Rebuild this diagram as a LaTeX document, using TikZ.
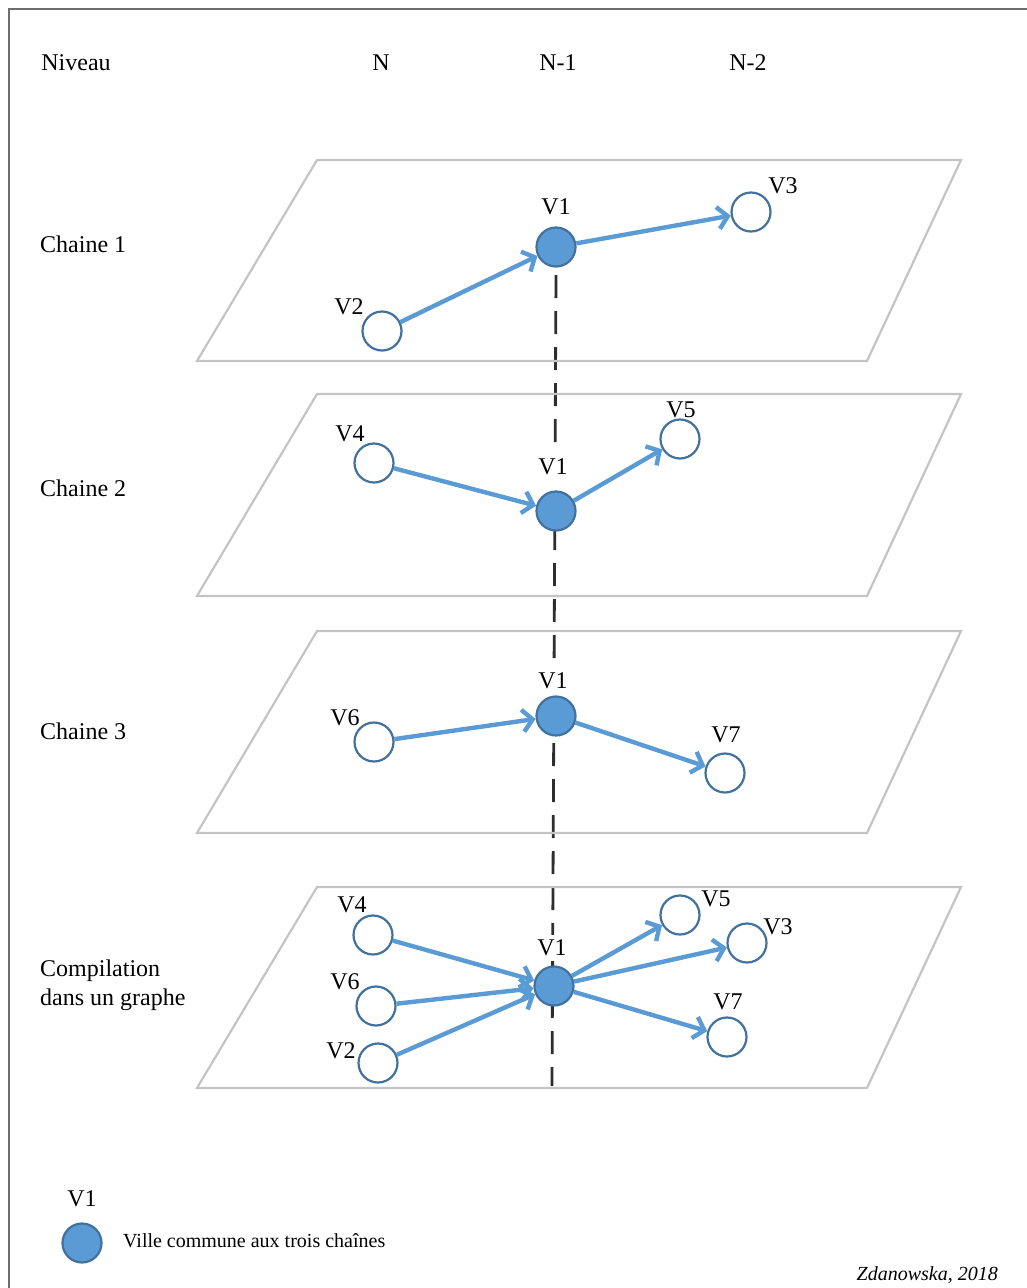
\documentclass[tikz,border=0pt]{standalone}
\usepackage{fontspec}
\setmainfont{Liberation Serif}
\usetikzlibrary{arrows.meta}
\definecolor{vblue}{HTML}{5B9BD5}
\definecolor{vedge}{HTML}{41719C}
\definecolor{planegray}{HTML}{C4C4C4}
\definecolor{framegray}{HTML}{6E6E6E}
\definecolor{dashgray}{HTML}{2E2E2E}
\begin{document}
\begin{tikzpicture}[x=1pt,y=-1pt,
  city/.style={circle,draw=vedge,line width=2.2pt,fill=white,minimum size=39pt,inner sep=0pt},
  hub/.style={city,fill=vblue},
  lab/.style={font=\fontsize{24}{28}\selectfont,inner sep=1pt},
  hublab/.style={lab,fill=white,inner xsep=3pt,inner ysep=5pt},
  big/.style={font=\fontsize{24}{29}\selectfont,inner sep=0pt},
  small/.style={font=\fontsize{20}{24}\selectfont,inner sep=0pt},
  link/.style={draw=vblue,line width=4.4pt,-{Straight Barb[length=10pt,width=22pt]}},
  planestyle/.style={draw=planegray,line width=2.2pt},
  axis/.style={draw=dashgray,line width=2.8pt,dash pattern=on 23pt off 13pt},
]
\useasboundingbox (0,0) rectangle (1027,1288);
% frame
\draw[framegray,line width=2.8pt] (9,1290) -- (9,9) -- (1029,9);

% vertical dashed axis
\coordinate (axtop) at (556,275);
\coordinate (axbot) at (552,1086);
\draw[axis] (axtop) -- (axbot);

% planes
\draw[planestyle] (317,160) -- (961,160) -- (867,361) -- (197,361) -- cycle;
\draw[planestyle] (317,394) -- (961,394) -- (867,596) -- (197,596) -- cycle;
\draw[planestyle] (317,631) -- (961,631) -- (867,833) -- (197,833) -- cycle;
\draw[planestyle] (317,887) -- (961,887) -- (867,1088) -- (197,1088) -- cycle;

% headers
\node[big] (hniv) at (76,63) {Niveau};
\node[big] (hn) at (381,63) {N};
\node[big] (hn1) at (558,63) {N-1};
\node[big] (hn2) at (748,63) {N-2};

% row labels
\node[big,anchor=west] (r1) at (40,244) {Chaine 1};
\node[big,anchor=west] (r2) at (40,488) {Chaine 2};
\node[big,anchor=west] (r3) at (40,731) {Chaine 3};
\node[big,anchor=west,align=left] (r4) at (40,985) {Compilation\\dans un graphe};

% ---- chain 1
\node[hublab] (l1v1) at (556,207) {V1};
\node[lab] (l1v2) at (349,307) {V2};
\node[lab] (l1v3) at (783,186) {V3};
\node[hub] (c1v1) at (556,247) {};
\node[city] (c1v2) at (382,331) {};
\node[city] (c1v3) at (751,212) {};
\draw[link] (c1v2) -- (c1v1);
\draw[link] (c1v1) -- (c1v3);

% ---- chain 2
\node[hublab] (l2v1) at (553,467) {V1};
\node[lab] (l2v4) at (350,434) {V4};
\node[lab] (l2v5) at (681,410) {V5};
\node[hub] (c2v1) at (556,511) {};
\node[city] (c2v4) at (374,463) {};
\node[city] (c2v5) at (680,439) {};
\draw[link] (c2v4) -- (c2v1);
\draw[link] (c2v1) -- (c2v5);

% ---- chain 3
\node[hublab] (l3v1) at (553,681) {V1};
\node[lab] (l3v6) at (345,718) {V6};
\node[lab] (l3v7) at (726,735) {V7};
\node[hub] (c3v1) at (556,716) {};
\node[city] (c3v6) at (374,742) {};
\node[city] (c3v7) at (725,773) {};
\draw[link] (c3v6) -- (c3v1);
\draw[link] (c3v1) -- (c3v7);

% ---- compilation
\node[hublab] (l4v1) at (552,948) {V1};
\node[lab] (l4v4) at (352,905) {V4};
\node[lab] (l4v6) at (345,982) {V6};
\node[lab] (l4v2) at (341,1051) {V2};
\node[lab] (l4v5) at (716,899) {V5};
\node[lab] (l4v3) at (778,927) {V3};
\node[lab] (l4v7) at (728,1002) {V7};
\node[hub] (c4v1) at (554,986) {};
\node[city] (c4v4) at (373,935) {};
\node[city] (c4v6) at (376,1006) {};
\node[city] (c4v2) at (378,1063) {};
\node[city] (c4v5) at (680,915) {};
\node[city] (c4v3) at (747,943) {};
\node[city] (c4v7) at (727,1037) {};
\draw[link] (c4v4) -- (c4v1);
\draw[link] (c4v6) -- (c4v1);
\draw[link] (c4v2) -- (c4v1);
\draw[link] (c4v1) -- (c4v5);
\draw[link] (c4v1) -- (c4v3);
\draw[link] (c4v1) -- (c4v7);

% ---- legend
\node[lab] (llv1) at (82,1199) {V1};
\node[hub] (legv1) at (82,1243) {};
\node[small,anchor=west] (legtext) at (123,1241) {Ville commune aux trois chaînes};
\node[small,anchor=east,font=\fontsize{20}{24}\selectfont\itshape] (credit) at (998,1275) {Zdanowska, 2018};
\end{tikzpicture}
\end{document}
